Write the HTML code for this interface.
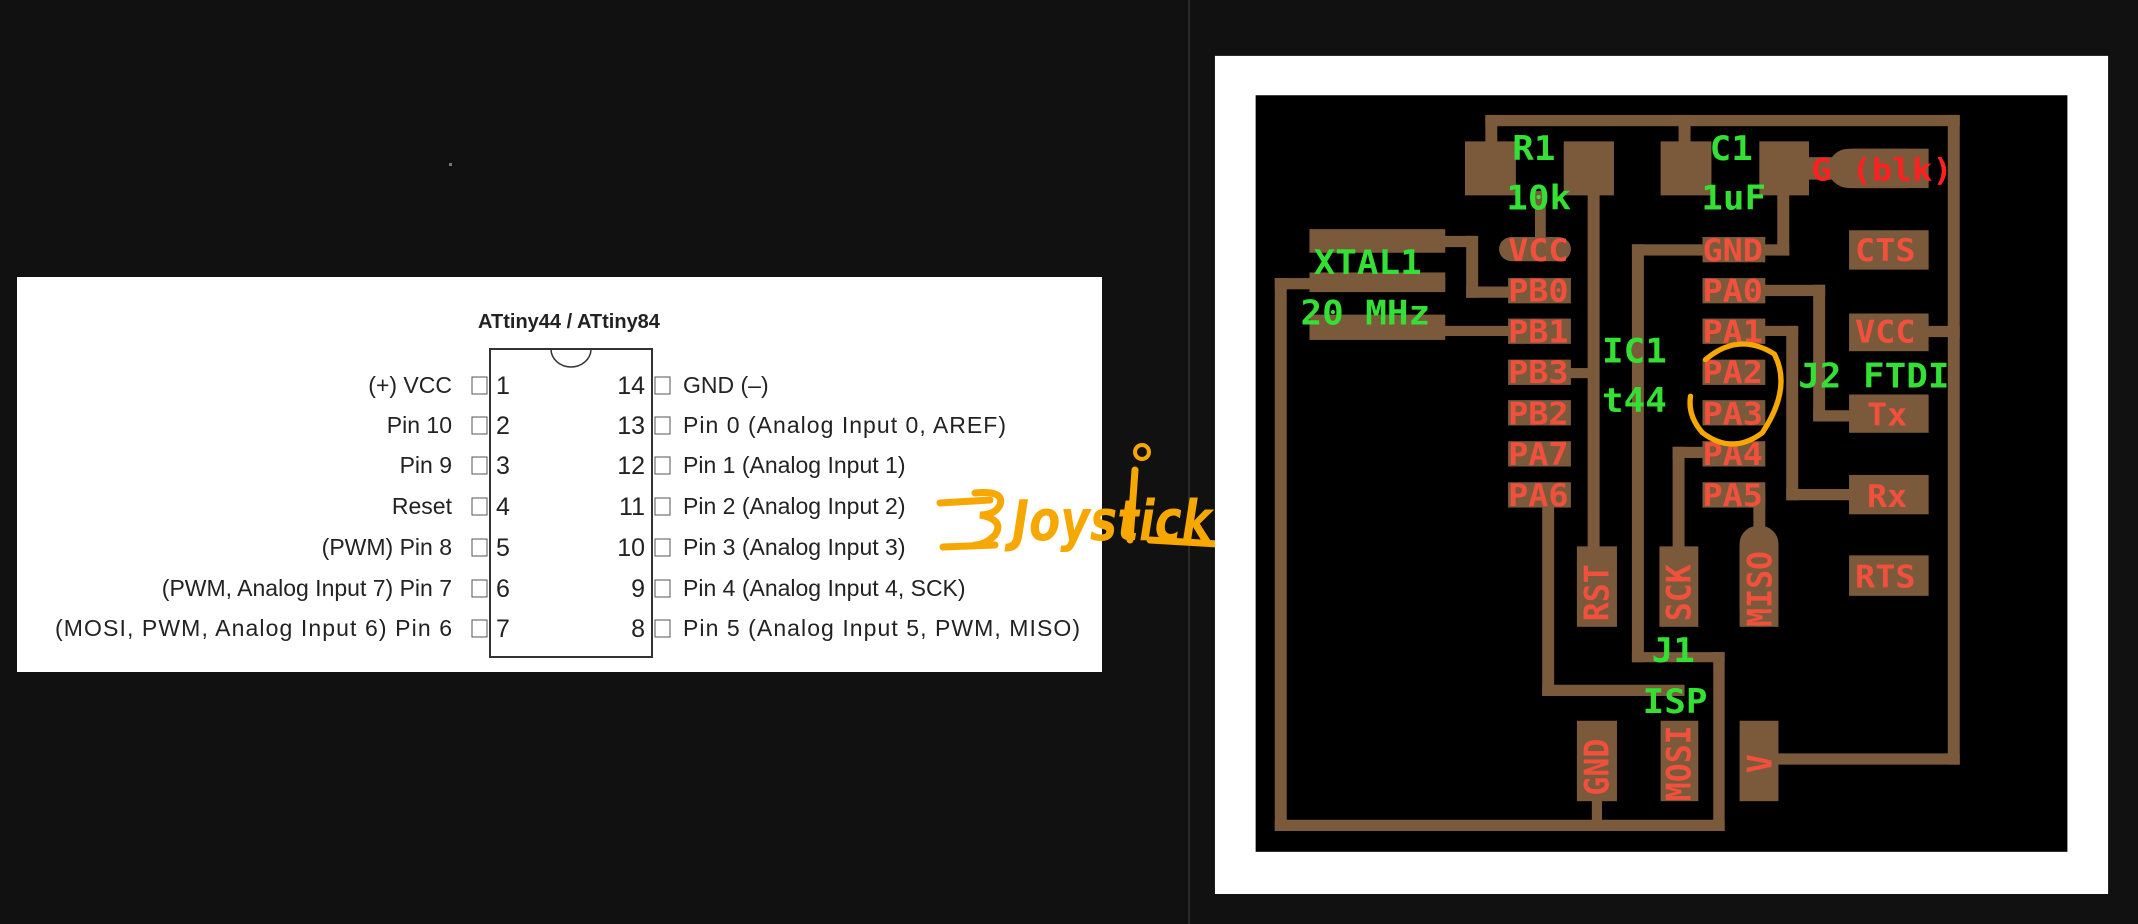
<!DOCTYPE html>
<html><head><meta charset="utf-8"><style>
html,body{margin:0;padding:0;background:#111;width:2138px;height:924px;overflow:hidden;position:relative}
.abs{position:absolute}
</style></head><body>
<div class="abs" style="left:1188px;top:0;width:2px;height:924px;background:#2a2a2a"></div>
<div class="abs" style="left:449px;top:163px;width:3px;height:3px;background:#777"></div>
<svg class="abs" style="left:0;top:0" width="1188" height="924" viewBox="0 0 1188 924">
<rect x="17" y="277" width="1085" height="395" fill="#fff"/>
<text x="569" y="328" text-anchor="middle" font-family="Liberation Sans, sans-serif" font-weight="bold" font-size="20" fill="#222">ATtiny44 / ATtiny84</text>
<rect x="490" y="349" width="162" height="308" fill="#fff" stroke="#333" stroke-width="2"/>
<path d="M551 349 A20 18 0 0 0 591 349" fill="none" stroke="#333" stroke-width="1.5"/>
<g font-family="Liberation Sans, sans-serif" font-size="23" fill="#222">
<g text-anchor="end">
<text x="452" y="393">(+) VCC</text><text x="452" y="433">Pin 10</text><text x="452" y="473">Pin 9</text><text x="452" y="514">Reset</text><text x="452" y="555">(PWM) Pin 8</text><text x="452" y="596">(PWM, Analog Input 7) Pin 7</text><text x="452" y="636" textLength="397">(MOSI, PWM, Analog Input 6) Pin 6</text>
</g>
<g font-size="25"><text x="496" y="394">1</text><text x="496" y="434">2</text><text x="496" y="474">3</text><text x="496" y="515">4</text><text x="496" y="556">5</text><text x="496" y="597">6</text><text x="496" y="637">7</text></g>
<g font-size="25" text-anchor="end"><text x="645" y="394">14</text><text x="645" y="434">13</text><text x="645" y="474">12</text><text x="645" y="515">11</text><text x="645" y="556">10</text><text x="645" y="597">9</text><text x="645" y="637">8</text></g>
<text x="683" y="393">GND (–)</text><text x="683" y="433" textLength="323">Pin 0 (Analog Input 0, AREF)</text><text x="683" y="473">Pin 1 (Analog Input 1)</text><text x="683" y="514">Pin 2 (Analog Input 2)</text><text x="683" y="555">Pin 3 (Analog Input 3)</text><text x="683" y="596">Pin 4 (Analog Input 4, SCK)</text><text x="683" y="636" textLength="397">Pin 5 (Analog Input 5, PWM, MISO)</text>
</g>
<g fill="#fff" stroke="#555" stroke-width="1">
<rect x="472" y="377" width="15" height="17"/><rect x="472" y="417" width="15" height="17"/><rect x="472" y="457" width="15" height="17"/><rect x="472" y="498" width="15" height="17"/><rect x="472" y="539" width="15" height="17"/><rect x="472" y="580" width="15" height="17"/><rect x="472" y="620" width="15" height="17"/>
<rect x="655" y="377" width="15" height="17"/><rect x="655" y="417" width="15" height="17"/><rect x="655" y="457" width="15" height="17"/><rect x="655" y="498" width="15" height="17"/><rect x="655" y="539" width="15" height="17"/><rect x="655" y="580" width="15" height="17"/><rect x="655" y="620" width="15" height="17"/>
</g>
</svg>
<svg class="abs" style="left:0;top:0" width="2138" height="924" viewBox="0 0 2138 924">
<g stroke="#f6a800" stroke-width="7" fill="none" stroke-linecap="round">
<path d="M940 503 L990 500"/><path d="M975 493 Q1005 490 1000 505 Q995 515 980 515 Q1005 520 995 535 Q985 545 975 545"/><path d="M943 547 L995 545"/>
<path d="M1150 540 L1235 545"/>
<path d="M1135 470 L1130 540"/>
</g>
<circle cx="1142" cy="452" r="7" fill="none" stroke="#f6a800" stroke-width="4"/>
<text x="1012" y="540" textLength="200" lengthAdjust="spacingAndGlyphs" font-family="DejaVu Sans, sans-serif" font-style="italic" font-size="56" fill="#f6a800" font-weight="bold">Joystick</text>
</svg>

<svg class="abs" style="left:1200px;top:39px" width="938" height="882" viewBox="0 0 1568 1568" preserveAspectRatio="none">
<rect x="25" y="30" width="1493" height="1490" fill="#fff"/>
<rect x="93" y="100" width="1357" height="1345" fill="#000"/>
<g fill="#7b5a3c">
<rect x="477" y="135" width="793" height="20"/>
<rect x="1250" y="135" width="20" height="1155"/>
<rect x="965" y="1270" width="305" height="20"/>
<rect x="477" y="135" width="20" height="60"/><rect x="800" y="135" width="20" height="60"/>
<rect x="443" y="182" width="85" height="96"/><rect x="608" y="182" width="84" height="96"/>
<rect x="770" y="182" width="85" height="96"/><rect x="935" y="182" width="83" height="96"/>
<rect x="1050" y="195" width="168" height="70" rx="35"/><rect x="1090" y="195" width="128" height="70"/>
<rect x="1000" y="210" width="60" height="40"/>
<rect x="560" y="270" width="18" height="100"/>
<rect x="500" y="352" width="120" height="43" rx="21"/>
<rect x="648" y="270" width="20" height="640"/>
<rect x="630" y="902" width="67" height="143"/>
<rect x="965" y="270" width="20" height="115"/><rect x="900" y="365" width="85" height="20"/>
<rect x="722" y="365" width="140" height="20"/>
<rect x="722" y="365" width="20" height="743"/>
<rect x="722" y="1090" width="155" height="18"/>
<rect x="858" y="1090" width="19" height="318"/>
<rect x="125" y="1388" width="752" height="20"/>
<rect x="125" y="425" width="20" height="983"/>
<rect x="125" y="425" width="285" height="20"/>
<rect x="630" y="1212" width="67" height="143"/><rect x="655" y="1350" width="17" height="45"/>
<rect x="183" y="338" width="227" height="42"/><rect x="183" y="415" width="227" height="35"/><rect x="183" y="490" width="227" height="45"/>
<rect x="400" y="350" width="60" height="20"/><rect x="445" y="350" width="20" height="110"/><rect x="445" y="440" width="80" height="20"/>
<rect x="400" y="510" width="125" height="18"/>
<rect x="600" y="585" width="60" height="18"/>
<rect x="572" y="800" width="20" height="368"/><rect x="572" y="1148" width="238" height="20"/>
<rect x="770" y="1212" width="63" height="143"/>
<rect x="940" y="437" width="105" height="20"/><rect x="1025" y="437" width="20" height="243"/><rect x="1025" y="660" width="70" height="20"/>
<rect x="1085" y="632" width="133" height="68"/>
<rect x="940" y="510" width="60" height="18"/><rect x="980" y="510" width="20" height="310"/><rect x="980" y="800" width="110" height="20"/>
<rect x="1085" y="775" width="133" height="70"/>
<rect x="790" y="725" width="60" height="20"/><rect x="790" y="725" width="20" height="190"/>
<rect x="768" y="902" width="65" height="143"/>
<rect x="925" y="800" width="20" height="75"/>
<rect x="902" y="865" width="65" height="180" rx="32"/><rect x="902" y="900" width="65" height="145"/>
<rect x="1085" y="488" width="133" height="67"/><rect x="1210" y="510" width="60" height="20"/>
<rect x="1085" y="340" width="133" height="70"/><rect x="1085" y="918" width="133" height="72"/>
<rect x="902" y="1212" width="65" height="143"/>
<rect x="515" y="425" width="105" height="45"/><rect x="515" y="497" width="105" height="45"/><rect x="515" y="570" width="105" height="45"/><rect x="515" y="642" width="105" height="45"/><rect x="515" y="715" width="105" height="45"/><rect x="515" y="788" width="105" height="45"/>
<rect x="840" y="352" width="105" height="45"/><rect x="840" y="425" width="105" height="45"/><rect x="840" y="497" width="105" height="45"/><rect x="840" y="570" width="105" height="45"/><rect x="840" y="642" width="105" height="45"/><rect x="840" y="715" width="105" height="45"/><rect x="840" y="788" width="105" height="45"/>
</g>
<g font-family="DejaVu Sans Mono, Liberation Mono, monospace" font-weight="bold" font-size="56" fill="#f0503c">
<text x="515" y="395">VCC</text><text x="515" y="467">PB0</text><text x="515" y="540">PB1</text><text x="515" y="612">PB3</text><text x="515" y="685">PB2</text><text x="515" y="757">PA7</text><text x="515" y="830">PA6</text>
<text x="840" y="395">GND</text><text x="840" y="467">PA0</text><text x="840" y="540">PA1</text><text x="840" y="612">PA2</text><text x="840" y="685">PA3</text><text x="840" y="757">PA4</text><text x="840" y="830">PA5</text>
<text x="1095" y="395">CTS</text><text x="1095" y="540">VCC</text><text x="1115" y="687">Tx</text><text x="1115" y="832">Rx</text><text x="1095" y="975">RTS</text>
<text x="1022" y="252" fill="#ff2020">G (blk)</text>
<text transform="translate(683,1035) rotate(-90)">RST</text>
<text transform="translate(820,1035) rotate(-90)">SCK</text>
<text transform="translate(955,1045) rotate(-90)">MISO</text>
<text transform="translate(683,1345) rotate(-90)">GND</text>
<text transform="translate(820,1355) rotate(-90)">MOSI</text>
<text transform="translate(955,1305) rotate(-90)">V</text>
</g>
<g font-family="DejaVu Sans Mono, Liberation Mono, monospace" font-weight="bold" font-size="60" fill="#33e033">
<text x="522" y="215">R1</text><text x="512" y="303">10k</text>
<text x="852" y="215">C1</text><text x="838" y="303">1uF</text>
<text x="190" y="418">XTAL1</text><text x="168" y="508">20 MHz</text>
<text x="672" y="575">IC1</text><text x="672" y="663">t44</text>
<text x="1000" y="620">J2 FTDI</text>
<text x="755" y="1108">J1</text><text x="740" y="1198">ISP</text>
</g>
<path d="M845 570 Q900 520 960 560 Q990 620 940 700 Q890 740 840 700 Q815 670 820 635" fill="none" stroke="#f6a800" stroke-width="9" stroke-linecap="round"/>
</svg>
</body></html>
